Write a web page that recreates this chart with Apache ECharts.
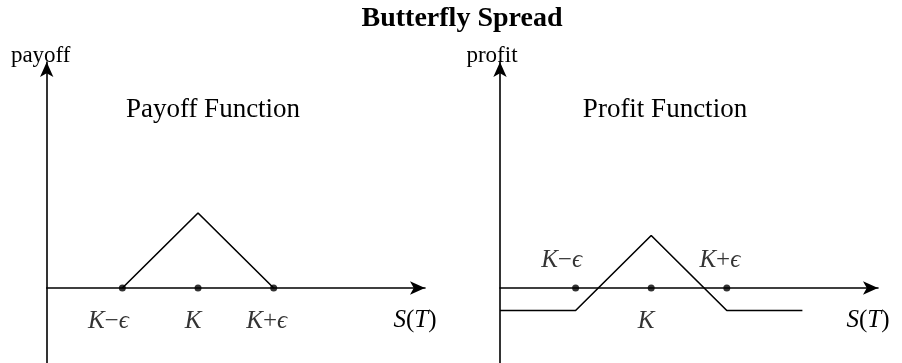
<!DOCTYPE html>
<html>
<head>
<meta charset="utf-8">
<script src="https://cdn.jsdelivr.net/npm/echarts@6/dist/echarts.min.js"></script>
<style>
  html, body { margin: 0; padding: 0; background: #fff; }
  #chart { width: 902px; height: 363px; }
</style>
</head>
<body>
<div id="chart"></div>
<script>
// strike positions on the S(T) axis: K-eps, K, K+eps
var strikes = [1, 2, 3];
var strikeLabels = ['K\u2212\u03f5', 'K', 'K+\u03f5'];

// payoff at expiry
var payoffX = [1, 2, 3];
var payoffY = [0, 1, 0];

// profit = payoff - premium paid
var profitX = [0, 1, 2, 3, 4];
var profitY = [-0.3, -0.3, 0.7, -0.3, -0.3];

var serif = 'Liberation Serif';
var ink = '#000';
var mathSize = 25;
// the tex labels sit a little left of their dots
var labelNudge = [-14, -5, -7];

function italicize(s) {
  return s.replace(/[A-Za-z\u03f5]/g, '{i|$&}');
}
var rich = {
  i: { fontStyle: 'italic', fontFamily: serif, fontSize: mathSize, color: ink }
};

function pairs(xs, ys) {
  return xs.map(function(x, i) { return [x, ys[i]]; });
}

function xAxisFor(idx) {
  return {
    gridIndex: idx,
    type: 'value',
    min: 0,
    max: 5,
    name: '{i|S}({i|T})',
    nameLocation: 'end',
    nameGap: -10,
    nameTextStyle: { align: 'center', verticalAlign: 'top', padding: [20, 0, 0, 0], rich: rich, fontFamily: serif, fontSize: mathSize, color: ink },
    axisLine: { onZero: true, symbol: ['none', 'arrow'], symbolSize: [10, 15], lineStyle: { color: ink, width: 1.6 } },
    axisTick: { show: false },
    axisLabel: { show: false },
    splitLine: { show: false }
  };
}

function yAxisFor(idx, name, shift) {
  return {
    gridIndex: idx,
    type: 'value',
    min: -1,
    max: 3.013,
    name: name,
    nameLocation: 'end',
    nameGap: -5,
    nameTextStyle: { fontFamily: serif, fontSize: 23, color: ink, padding: [0, shift, 0, 0] },
    axisLine: { onZero: true, symbol: ['none', 'arrow'], symbolSize: [10, 15], lineStyle: { color: ink, width: 1.6 } },
    axisTick: { show: false },
    axisLabel: { show: false },
    splitLine: { show: false }
  };
}

var labelStyle = {
  show: true,
  formatter: function(p) { return italicize(strikeLabels[p.dataIndex]); },
  rich: rich,
  fontFamily: serif,
  fontSize: mathSize,
  color: ink
};

function strikeDots(above) {
  return strikes.map(function(x, i) {
    var up = above && i !== 1;
    return {
      value: [x, 0],
      label: { position: up ? 'top' : 'bottom', distance: up ? 12 : 17, offset: [labelNudge[i], 0] }
    };
  });
}

var myChart = echarts.init(document.getElementById('chart'));
var option = {
  animation: false,
  backgroundColor: '#fff',
  title: [{
    text: 'Butterfly Spread',
    left: 457,
    textAlign: 'center',
    top: 0,
    textStyle: { fontFamily: serif, fontWeight: 'bold', fontSize: 28, color: ink }
  }, {
    text: 'Payoff Function',
    left: 208,
    textAlign: 'center',
    top: 91,
    textStyle: { fontFamily: serif, fontWeight: 'normal', fontSize: 27, color: ink }
  }, {
    text: 'Profit Function',
    left: 660,
    textAlign: 'center',
    top: 91,
    textStyle: { fontFamily: serif, fontWeight: 'normal', fontSize: 27, color: ink }
  }],
  grid: [
    { left: 46.7, top: 62, width: 378.3, height: 301 },
    { left: 500, top: 62, width: 378, height: 301 }
  ],
  xAxis: [xAxisFor(0), xAxisFor(1)],
  yAxis: [yAxisFor(0, 'payoff', 12), yAxisFor(1, 'profit', 16)],
  series: [{
    type: 'line',
    xAxisIndex: 0,
    yAxisIndex: 0,
    data: pairs(payoffX, payoffY),
    showSymbol: false,
    lineStyle: { color: ink, width: 1.6 },
    silent: true
  }, {
    type: 'scatter',
    xAxisIndex: 0,
    yAxisIndex: 0,
    data: strikeDots(false),
    symbolSize: 7,
    itemStyle: { color: ink },
    label: labelStyle
  }, {
    type: 'line',
    xAxisIndex: 1,
    yAxisIndex: 1,
    data: pairs(profitX, profitY),
    showSymbol: false,
    lineStyle: { color: ink, width: 1.6 },
    silent: true
  }, {
    type: 'scatter',
    xAxisIndex: 1,
    yAxisIndex: 1,
    data: strikeDots(true),
    symbolSize: 7,
    itemStyle: { color: ink },
    label: labelStyle
  }]
};
myChart.setOption(option);
</script>
</body>
</html>
